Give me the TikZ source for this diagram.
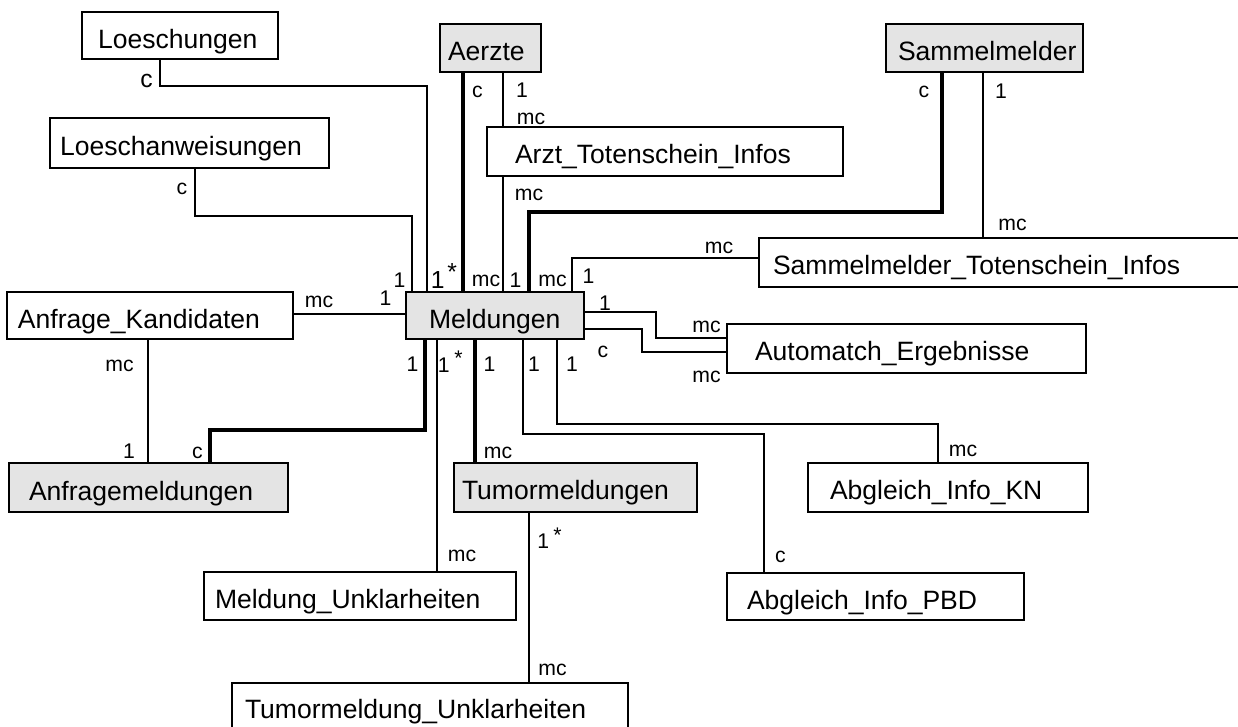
\documentclass[tikz,border=0pt]{standalone}
\usepackage{fontspec}
\setmainfont{Liberation Sans}
\usetikzlibrary{calc}
\definecolor{entgray}{RGB}{228,228,228}
\newcommand\entfont{\fontsize{19.9pt}{23pt}\selectfont}
\newcommand\cardfont{\fontsize{15.9pt}{18pt}\selectfont}
\newcommand\bigcardfont{\fontsize{18.5pt}{21pt}\selectfont}
% raised asterisk after a cardinality
\newcommand\starmark[2]{\kern#1\raisebox{#2}{*}}

\begin{document}
\begin{tikzpicture}[x=0.75pt,y=-0.75pt,
  ent/.style={draw, line width=1.6pt, anchor=north west, inner sep=0pt, outer sep=0pt,
              align=left, font=\entfont, text height=27pt},
  mainent/.style={ent, fill=entgray},
  rel/.style={line width=1.2pt},
  idrel/.style={line width=3.2pt},
  card/.style={font=\cardfont, inner sep=0pt},
  bigcard/.style={font=\bigcardfont, inner sep=0pt}]

\useasboundingbox (0,0) rectangle (1238,726);
\clip (0,0) rectangle (1238,726);

% entities
\node[ent, text width=147pt, text depth=8.25pt] (loe) at (82,12) {\hspace*{12pt}Loeschungen};
\node[mainent, text width=75.75pt, text depth=9pt] (aer) at (440,24) {\hspace*{6pt}Aerzte};
\node[mainent, text width=147.75pt, text depth=9pt] (sam) at (886,24) {\hspace*{9pt}Sammelmelder};
\node[ent, text width=209.25pt, text height=27.75pt, text depth=9.75pt] (loa) at (50,118) {\hspace*{7.5pt}Loeschanweisungen};
\node[ent, text width=267pt, text depth=9.75pt] (ati) at (487,127) {\hspace*{21pt}Arzt\_Totenschein\_Infos};
\node[ent, text width=364.5pt, text depth=9.75pt] (sti) at (759,238) {\hspace*{10.5pt}Sammelmelder\_Totenschein\_Infos};
\node[ent, text width=214.5pt, text depth=8.25pt] (ank) at (7,292) {\hspace*{8.25pt}Anfrage\_Kandidaten};
\node[mainent, text width=133.5pt, text depth=8.25pt] (mel) at (406,292) {\hspace*{17.25pt}Meldungen};
\node[ent, text width=269.25pt, text depth=9.75pt] (aut) at (727,324) {\hspace*{21pt}Automatch\_Ergebnisse};
\node[mainent, text width=209.25pt, text height=27.75pt, text depth=9pt] (anm) at (9,463) {\hspace*{15pt}Anfragemeldungen};
\node[mainent, text width=182.25pt, text depth=9.75pt] (tum) at (454,463) {\hspace*{6pt}Tumormeldungen};
\node[ent, text width=210pt, text depth=9.75pt] (akn) at (808,463) {\hspace*{16.5pt}Abgleich\_Info\_KN};
\node[ent, text width=234pt, text depth=9pt] (mun) at (204,572) {\hspace*{8.25pt}Meldung\_Unklarheiten};
\node[ent, text width=222.75pt, text depth=8.25pt] (apb) at (727,573) {\hspace*{15pt}Abgleich\_Info\_PBD};
\node[ent, text width=297pt, text height=26.25pt, text depth=12.75pt] (tun) at (232,683) {\hspace*{9.75pt}Tumormeldung\_Unklarheiten};

% relationships
\draw[rel] ($(loe.south west)+(78,0)$) -- ++(0,27) -| ($(mel.north west)+(21,0)$);
\draw[rel] ($(loa.south west)+(145,0)$) -- ++(0,48) -| ($(mel.north west)+(6,0)$);
\draw[idrel] ($(aer.south west)+(23,0)$) -- ($(mel.north west)+(57,0)$);
\draw[rel] ($(aer.south west)+(63,0)$) -- ($(ati.north west)+(16,0)$);
\draw[rel] ($(ati.south west)+(16,0)$) -- ($(mel.north west)+(97,0)$);
\draw[idrel] ($(sam.south west)+(56,0)$) -- ++(0,140) -| ($(mel.north west)+(123,0)$);
\draw[rel] ($(sam.south west)+(97,0)$) -- ($(sti.north west)+(224,0)$);
\draw[rel] ($(sti.north west)+(0,20)$) -| ($(mel.north west)+(166,0)$);
\draw[rel] ($(ank.north east)+(0,22)$) -- ($(mel.north west)+(0,22)$);
\draw[rel] ($(ank.south west)+(141,0)$) -- ($(anm.north west)+(139,0)$);
\draw[idrel] ($(anm.north west)+(201,0)$) -- ++(0,-33) -| ($(mel.south west)+(19,0)$);
\draw[rel] ($(mel.south west)+(31,0)$) -- ($(mun.north west)+(233,0)$);
\draw[idrel] ($(mel.south west)+(69,0)$) -- ($(tum.north west)+(21,0)$);
\draw[rel] ($(tum.south west)+(75,0)$) -- ($(tun.north west)+(297,0)$);
\draw[rel] ($(mel.south west)+(117,0)$) -- ++(0,95) -| ($(apb.north west)+(37,0)$);
\draw[rel] ($(mel.south west)+(151,0)$) -- ++(0,85) -| ($(akn.north west)+(130,0)$);
\draw[rel] ($(mel.north east)+(0,20)$) -- ++(72,0) |- ($(aut.north west)+(0,14)$);
\draw[rel] ($(mel.north east)+(0,37)$) -- ++(58,0) |- ($(aut.north west)+(0,28)$);

% cardinalities
\node[bigcard] (k1) at (146.5,81) {c};
\node[bigcard, anchor=base west] (k2) at (430.5,288) {1\starmark{2.25pt}{5.6pt}};
\node[card] (k3) at (182,189) {c};
\node[card] (k4) at (399.5,280) {1};
\node[card] (k5) at (477.5,92) {c};
\node[card] (k6) at (522,90) {1};
\node[card] (k7) at (531,119) {mc};
\node[card] (k8) at (529,195) {mc};
\node[card] (k9) at (486,281) {mc};
\node[card] (k10) at (515.5,280) {1};
\node[card] (k11) at (552.5,281) {mc};
\node[card] (k12) at (588.5,276) {1};
\node[card] (k13) at (924,91.5) {c};
\node[card] (k14) at (1001,91) {1};
\node[card] (k15) at (1012.5,225) {mc};
\node[card] (k16) at (719,248) {mc};
\node[card] (k17) at (319,302) {mc};
\node[card] (k18) at (385.5,298.5) {1};
\node[card] (k19) at (119.5,366) {mc};
\node[card] (k20) at (129,451.5) {1};
\node[card] (k21) at (197.5,453) {c};
\node[card] (k22) at (412.5,364.5) {1};
\node[card, anchor=base west] (k23) at (437.7,372) {1\starmark{3.4pt}{5.2pt}};
\node[card] (k24) at (489.5,364.5) {1};
\node[card] (k25) at (498,452.5) {mc};
\node[card] (k26) at (534,364.5) {1};
\node[card] (k27) at (572,364.5) {1};
\node[card] (k28) at (605,303) {1};
\node[card] (k29) at (603,352) {c};
\node[card] (k30) at (706.5,327) {mc};
\node[card] (k31) at (706.5,377) {mc};
\node[card] (k32) at (963,451) {mc};
\node[card] (k33) at (780.5,557) {c};
\node[card] (k34) at (462,556) {mc};
\node[card, anchor=base west] (k35) at (537,548) {1\starmark{3.2pt}{4.5pt}};
\node[card] (k36) at (552.5,669.5) {mc};
\end{tikzpicture}
\end{document}
